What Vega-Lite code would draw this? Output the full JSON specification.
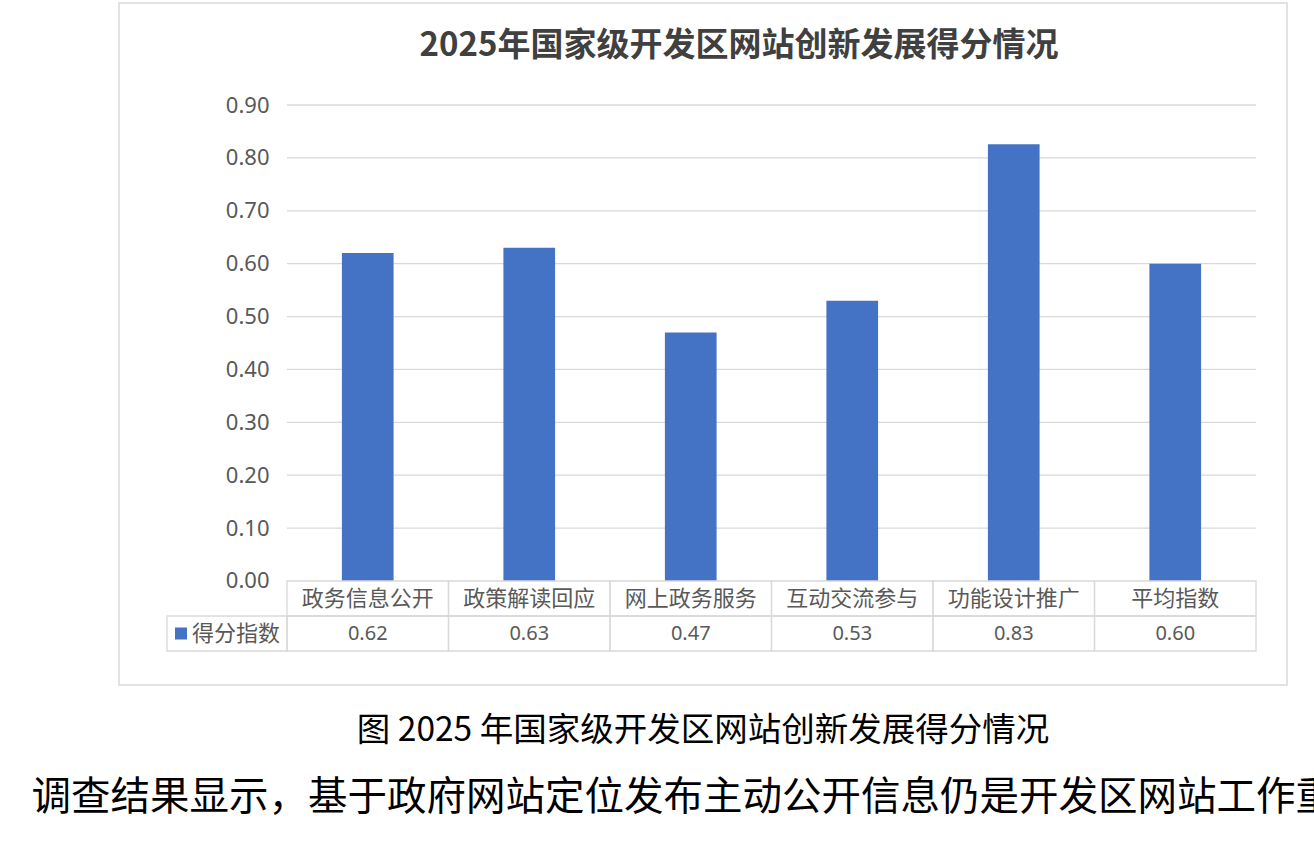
{
  "$schema": "https://vega.github.io/schema/vega-lite/v6.json",
  "width": 1168,
  "height": 682,
  "autosize": {"type": "none"},
  "padding": {"left": 119, "top": 3, "right": 27, "bottom": 176},
  "background": "white",
  "config": {
    "view": {"stroke": "#d9d9d9", "strokeWidth": 1.5},
    "font": "Noto Sans CJK SC"
  },
  "title": {
    "text": "图 2025 年国家级开发区网站创新发展得分情况",
    "subtitle": "调查结果显示，基于政府网站定位发布主动公开信息仍是开发区网站工作重点",
    "orient": "bottom",
    "anchor": "middle",
    "frame": "group",
    "offset": 30,
    "font": "Noto Sans CJK SC",
    "fontSize": 33.5,
    "fontWeight": "normal",
    "color": "#000000",
    "subtitleFont": "Noto Sans CJK SC",
    "subtitleFontSize": 39.5,
    "subtitleFontWeight": "normal",
    "subtitleColor": "#000000",
    "subtitlePadding": 30
  },
  "datasets": {
    "scores": [
      {"cat": "政务信息公开", "value": 0.62},
      {"cat": "政策解读回应", "value": 0.63},
      {"cat": "网上政务服务", "value": 0.47},
      {"cat": "互动交流参与", "value": 0.53},
      {"cat": "功能设计推广", "value": 0.826},
      {"cat": "平均指数", "value": 0.60}
    ],
    "grid": [
      {"v": 0.1}, {"v": 0.2}, {"v": 0.3}, {"v": 0.4}, {"v": 0.5},
      {"v": 0.6}, {"v": 0.7}, {"v": 0.8}, {"v": 0.9}
    ],
    "series": [{"series": "得分指数"}]
  },
  "layer": [
    {
      "layer": [
        {
          "data": {"name": "grid"},
          "mark": {"type": "rule", "color": "#d9d9d9", "strokeWidth": 1.3},
          "encoding": {
            "y": {
              "field": "v",
              "type": "quantitative",
              "scale": {"domain": [-0.19664, 1.09286], "nice": false, "zero": false},
              "axis": {
                "values": [0, 0.1, 0.2, 0.3, 0.4, 0.5, 0.6, 0.7, 0.8, 0.9],
                "format": ".2f",
                "orient": "left",
                "offset": -168,
                "labelPadding": 18,
                "labelFont": "Noto Sans",
                "labelFontSize": 22,
                "labelColor": "#595959",
                "domain": false,
                "ticks": false,
                "grid": false,
                "title": null
              }
            },
            "x": {"datum": "政务信息公开", "type": "nominal", "bandPosition": 0},
            "x2": {"datum": "平均指数", "bandPosition": 1}
          }
        },
        {
          "data": {"name": "scores"},
          "mark": {"type": "bar", "color": "#4472C4", "width": {"band": 0.32}},
          "encoding": {
            "x": {
              "field": "cat",
              "type": "nominal",
              "scale": {
                "type": "band",
                "domain": ["政务信息公开", "政策解读回应", "网上政务服务", "互动交流参与", "功能设计推广", "平均指数"],
                "paddingInner": 0,
                "paddingOuter": 0.6161,
                "align": 0.8442
              },
              "axis": {
                "orient": "top",
                "labels": false,
                "ticks": false,
                "domain": false,
                "grid": false,
                "title": "2025年国家级开发区网站创新发展得分情况",
                "titleFont": "Noto Sans CJK SC",
                "titleFontSize": 33,
                "titleFontWeight": "bold",
                "titleColor": "#404040",
                "titleX": 619.5,
                "titleY": 42,
                "titleAlign": "center",
                "titleBaseline": "middle",
                "titleAngle": 0
              }
            },
            "y": {"field": "value", "type": "quantitative"}
          }
        }
      ]
    },
    {
      "layer": [
        {
          "data": {"name": "scores"},
          "mark": {"type": "rect", "fill": "white", "fillOpacity": 0, "stroke": "#d9d9d9", "strokeWidth": 1.3},
          "encoding": {
            "x": {"field": "cat", "type": "nominal"},
            "y": {
              "datum": "类别",
              "type": "nominal",
              "scale": {
                "type": "band",
                "domain": ["类别", "得分指数"],
                "paddingInner": 0,
                "paddingOuter": 0,
                "range": [578, 648]
              },
              "axis": null
            }
          }
        },
        {
          "data": {"name": "scores"},
          "mark": {"type": "rect", "fill": "white", "fillOpacity": 0, "stroke": "#d9d9d9", "strokeWidth": 1.3},
          "encoding": {
            "x": {"field": "cat", "type": "nominal"},
            "y": {"datum": "得分指数", "type": "nominal"}
          }
        },
        {
          "data": {"name": "scores"},
          "mark": {"type": "text", "font": "Noto Sans CJK SC", "fontSize": 22, "color": "#595959", "baseline": "middle"},
          "encoding": {
            "x": {"field": "cat", "type": "nominal"},
            "y": {"datum": "类别", "type": "nominal"},
            "text": {"field": "cat"}
          }
        },
        {
          "data": {"name": "scores"},
          "mark": {"type": "text", "font": "Noto Sans", "fontSize": 20, "color": "#595959", "baseline": "middle"},
          "encoding": {
            "x": {"field": "cat", "type": "nominal"},
            "y": {"datum": "得分指数", "type": "nominal"},
            "text": {"field": "value", "format": ".2f"}
          }
        },
        {
          "data": {"name": "series"},
          "mark": {"type": "rect", "fill": "white", "fillOpacity": 0, "stroke": "#d9d9d9", "strokeWidth": 1.3, "xOffset": -120},
          "encoding": {
            "x": {"datum": "政务信息公开", "type": "nominal", "bandPosition": 0},
            "x2": {"datum": "政务信息公开", "bandPosition": 0},
            "y": {"field": "series", "type": "nominal"}
          }
        },
        {
          "data": {"name": "series"},
          "mark": {"type": "point", "shape": "square", "filled": true, "size": 144, "color": "#4472C4", "opacity": 1, "xOffset": -106},
          "encoding": {
            "x": {"datum": "政务信息公开", "type": "nominal", "bandPosition": 0},
            "y": {"field": "series", "type": "nominal"}
          }
        },
        {
          "data": {"name": "series"},
          "mark": {"type": "text", "font": "Noto Sans CJK SC", "fontSize": 22, "color": "#595959", "align": "left", "baseline": "middle", "dx": -95},
          "encoding": {
            "x": {"datum": "政务信息公开", "type": "nominal", "bandPosition": 0},
            "y": {"field": "series", "type": "nominal"},
            "text": {"field": "series"}
          }
        }
      ]
    }
  ],
  "resolve": {"scale": {"y": "independent"}, "axis": {"y": "independent"}}
}
